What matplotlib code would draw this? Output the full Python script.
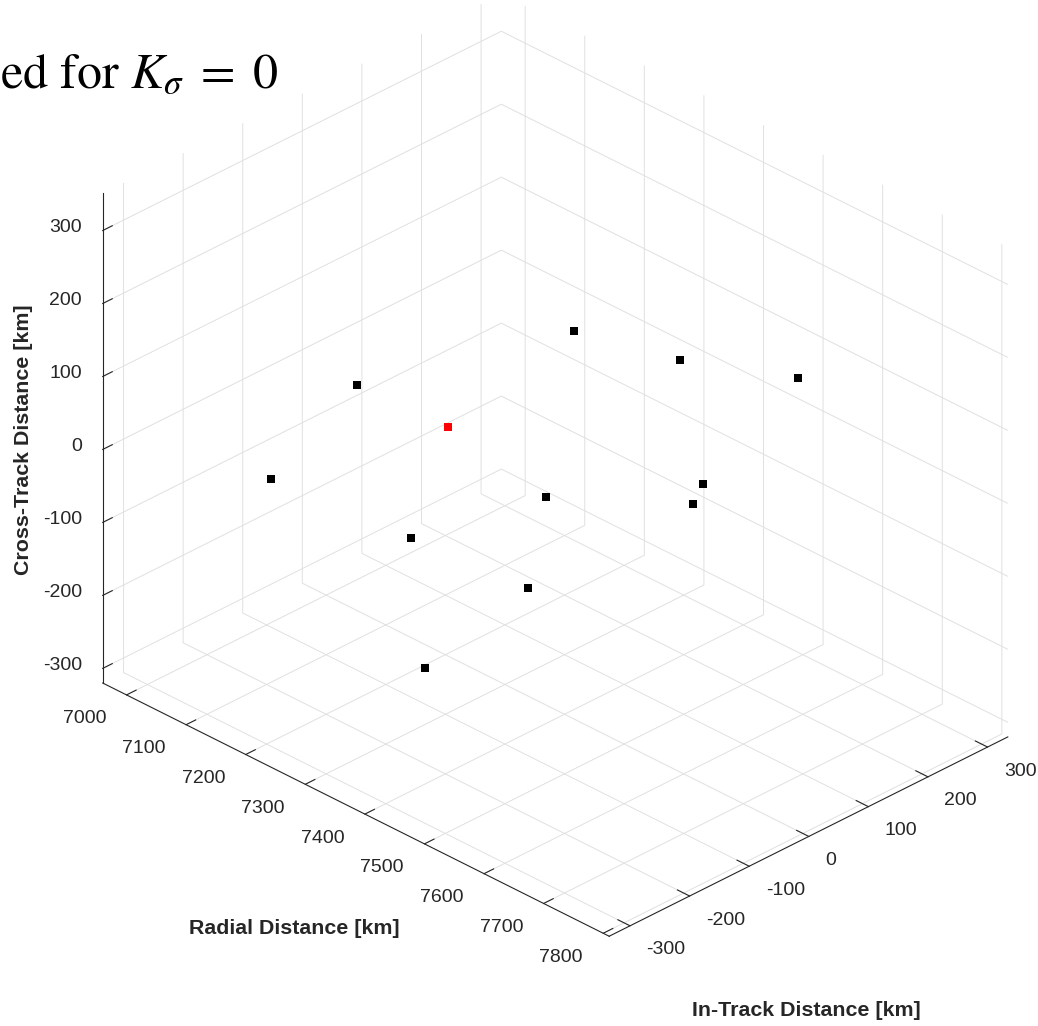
import numpy as np
import matplotlib
matplotlib.use('Agg')
import matplotlib.pyplot as plt
from matplotlib.ticker import NullFormatter
from matplotlib.transforms import offset_copy
from mpl_toolkits.mplot3d import proj3d

# satellite positions [km]
radial = [7163, 7090, 7221, 7254, 7339, 7328, 7304, 7416, 7595, 7485, 7462]
in_track = [-112, -182, -78, -88, 30, 10, 112, 178, 197, 148, 154]
cross_track = [80, -50, -120, -280, -60, -180, 120, 100, 140, -30, -70]

# highlighted satellite
red_radial = [7212]
red_in_track = [-7]
red_cross_track = [0]

x_lim = (6960, 7810)
y_lim = (-335, 334)
z_lim = (-320, 351)
x_ticks = list(range(7000, 7801, 100))
y_ticks = list(range(-300, 301, 100))
z_ticks = list(range(-300, 301, 100))

W, H = 1038, 1026
txt_col = (0.15, 0.15, 0.15)
plt.rcParams['grid.color'] = '#e0e0e0'
plt.rcParams['grid.linewidth'] = 0.7
plt.rcParams['mathtext.fontset'] = 'stix'

fig = plt.figure(figsize=(W / 100, H / 100), dpi=100)
ax = fig.add_axes([0.1, 0.1, 0.8, 0.8], projection='3d', proj_type='ortho')
ax.set_xlim(x_lim)
ax.set_ylim(y_lim)
ax.set_zlim(z_lim)
ax.set_box_aspect((x_lim[1] - x_lim[0], y_lim[1] - y_lim[0], z_lim[1] - z_lim[0]))
ax.view_init(elev=30, azim=-45)
ax.set_xticks(x_ticks)
ax.set_yticks(y_ticks)
ax.set_zticks(z_ticks)
ax.zaxis.set_ticks_position('lower')

for axis in (ax.xaxis, ax.yaxis, ax.zaxis):
    axis.set_major_formatter(NullFormatter())
    axis.set_pane_color((1, 1, 1, 1))
    axis.pane.set_edgecolor((1, 1, 1, 0))
    axis.line.set_color(txt_col)
    axis.line.set_linewidth(0.8)
    axis._axinfo['tick']['inward_factor'] = 0.0
    axis._axinfo['tick']['outward_factor'] = 0.3
    axis._axinfo['tick']['linewidth'] = {True: 0.8, False: 0.5}
    axis._axinfo['tick']['color'] = txt_col
ax.tick_params(colors=txt_col)

ax.scatter(radial, in_track, cross_track, marker='s', s=34, c='k',
           linewidths=0, depthshade=False)
ax.scatter(red_radial, red_in_track, red_cross_track, marker='s', s=34, c='r',
           linewidths=0, depthshade=False)

# fit the projected box onto the reference layout
fig.canvas.draw()


def to_px(x, y, z):
    px, py, _ = proj3d.proj_transform(x, y, z, ax.M)
    return np.array(ax.transData.transform((px, py)))


a = to_px(x_lim[0], y_lim[0], z_lim[0])
b = to_px(x_lim[1], y_lim[0], z_lim[0])
A = np.array([102.7, H - 683])
B = np.array([609.3, H - 936])
k = np.hypot(*(B - A)) / np.hypot(*(b - a))
pos = ax.get_position()
c0 = np.array([(pos.x0 + pos.width / 2) * W, (pos.y0 + pos.height / 2) * H])
size = pos.width * W * k
c1 = A - k * (a - c0)
ax.set_position([(c1[0] - size / 2) / W, (c1[1] - size / 2) / H, size / W, size / H])
fig.canvas.draw()

tick_font = dict(family='Liberation Sans', fontsize=14, color=txt_col)
for t in x_ticks:
    ax.text(t, y_lim[0], z_lim[0], str(t), ha='right', va='center',
            transform=offset_copy(ax.transData, fig, x=-20.5, y=-24, units='dots'), **tick_font)
for t in y_ticks:
    ax.text(x_lim[1], t, z_lim[0], str(t), ha='left', va='center',
            transform=offset_copy(ax.transData, fig, x=16.5, y=-24, units='dots'), **tick_font)
for t in z_ticks:
    ax.text(x_lim[0], y_lim[0], t, str(t), ha='right', va='center',
            transform=offset_copy(ax.transData, fig, x=-20.7, y=3, units='dots'), **tick_font)

lab_font = dict(family='Liberation Sans', fontsize=15.4, fontweight='bold', color=txt_col)
fig.text(24 / W, 1 - 440 / H, 'Cross-Track Distance [km]', rotation=90,
         ha='center', va='center', **lab_font)
fig.text(294 / W, 1 - 928 / H, 'Radial Distance [km]', ha='center', va='center', **lab_font)
fig.text(806 / W, 1 - 1011 / H, 'In-Track Distance [km]', ha='center', va='center', **lab_font)

fig.text(0.0, 1 - 87 / H, r'ed for $K_\sigma\;=\;0$', ha='left', va='baseline',
         family='STIXGeneral', fontsize=36, color='k')

fig.savefig('out.png', dpi=100)
